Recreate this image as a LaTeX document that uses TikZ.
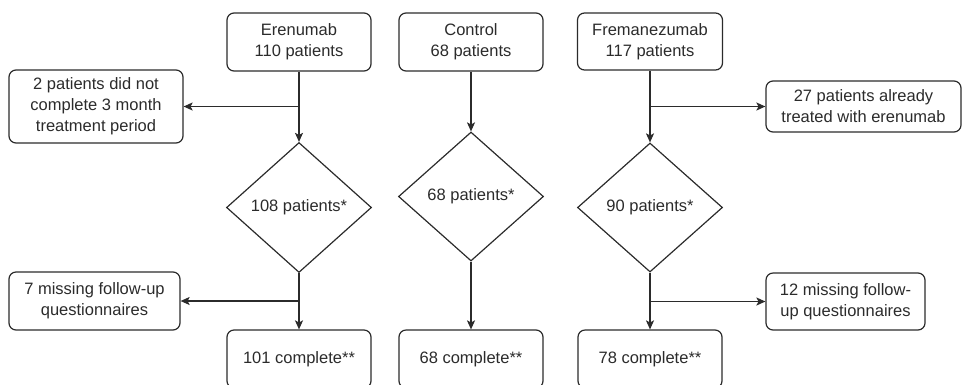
\documentclass[tikz,border=0pt]{standalone}
\usepackage{fontspec}
\setmainfont{Liberation Sans}
\usetikzlibrary{shapes.geometric,arrows.meta}
\definecolor{ink}{HTML}{2B2B2B}
\begin{document}
\begin{tikzpicture}[x=1pt,y=-1pt,
  every node/.style={font=\fontsize{16.5pt}{21pt}\selectfont, text=ink, align=center, inner sep=0pt},
  box/.style={draw=ink, line width=1.2pt, rounded corners=7pt, rectangle},
  dia/.style={draw=ink, line width=1.2pt, diamond, aspect=1.12},
  conn/.style={draw=ink, line width=1.2pt},
  arr/.style={conn, -{Stealth[length=9pt,width=8pt,inset=2pt]}}]
\useasboundingbox (0,0) rectangle (963,384);
\clip (0,0) rectangle (963,384);
% top boxes
\node[box, minimum width=144pt, minimum height=58pt] (ebox) at (299,42) {Erenumab\\110 patients};
\node[box, minimum width=144pt, minimum height=58pt] (cbox) at (471,42) {Control\\68 patients};
\node[box, minimum width=145pt, minimum height=57pt] (fbox) at (650,41.5) {Fremanezumab\\117 patients};
% diamonds
\node[dia, minimum width=145pt, minimum height=130pt] (edia) at (299,207.5) {108 patients*};
\node[dia, minimum width=145pt, minimum height=129pt] (cdia) at (471,196.5) {68 patients*};
\node[dia, minimum width=145pt, minimum height=129pt] (fdia) at (650,207.5) {90 patients*};
% bottom boxes
\node[box, minimum width=144pt, minimum height=58pt] (eend) at (299,359) {101 complete**};
\node[box, minimum width=144pt, minimum height=58pt] (cend) at (471,359) {68 complete**};
\node[box, minimum width=144pt, minimum height=58pt] (fend) at (650,359) {78 complete**};
% side boxes
\node[box, minimum width=174pt, minimum height=73pt] (l1) at (96,106.5) {2 patients did not\\complete 3 month\\treatment period};
\node[box, minimum width=171pt, minimum height=58pt] (l2) at (94.5,301) {7 missing follow-up\\questionnaires};
\node[box, minimum width=195pt, minimum height=51pt] (r1) at (863.5,106.5) {27 patients already\\treated with erenumab};
\node[box, minimum width=159pt, minimum height=57pt] (r2) at (845.5,301.5) {12 missing follow-\\up questionnaires};
% branch points
\coordinate (eb1) at (ebox.south |- l1.east);
\coordinate (eb2) at (edia.south |- l2.east);
\coordinate (fb1) at (fbox.south |- r1.west);
\coordinate (fb2) at (fdia.south |- r2.west);
% connectors
\draw[arr] (ebox.south) -- (edia.north);
\draw[arr] (eb1) -- (l1.east);
\draw[arr] (edia.south) -- (eend.north);
\draw[arr] (eb2) -- (l2.east);
\draw[arr] (cbox.south) -- (cdia.north);
\draw[arr] (cdia.south) -- (cend.north);
\draw[arr] (fbox.south) -- (fdia.north);
\draw[arr] (fb1) -- (r1.west);
\draw[arr] (fdia.south) -- (fend.north);
\draw[arr] (fb2) -- (r2.west);
\end{tikzpicture}
\end{document}
